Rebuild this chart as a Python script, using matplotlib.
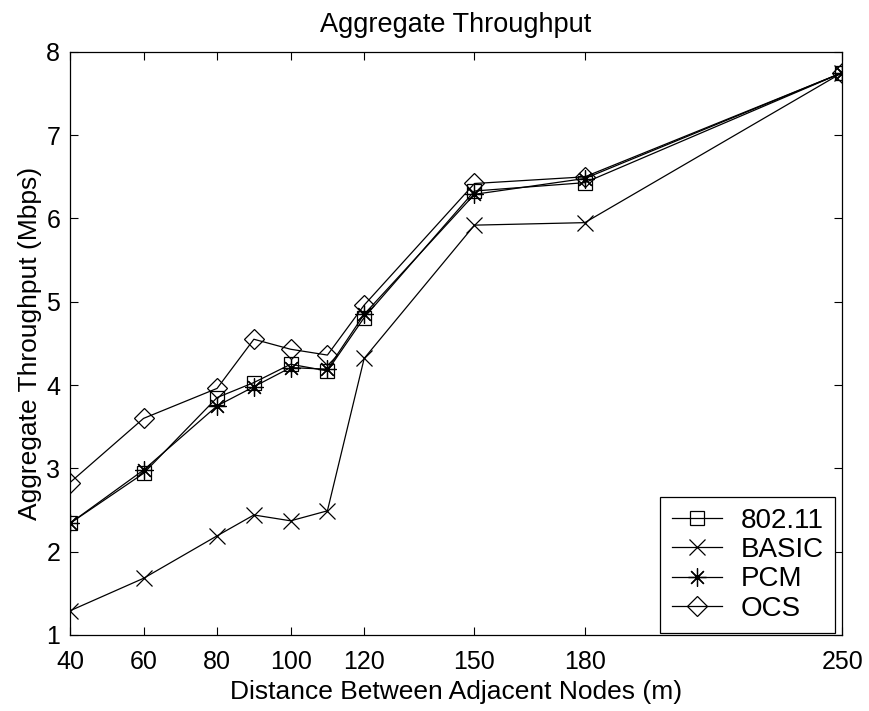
import matplotlib
matplotlib.use("Agg")
import matplotlib.pyplot as plt

plt.rcParams['font.family'] = ['Liberation Sans', 'DejaVu Sans']

distance = [40, 60, 80, 90, 100, 110, 120, 150, 180, 250]
tp_80211 = [2.34, 2.94, 3.85, 4.03, 4.25, 4.17, 4.81, 6.33, 6.43, 7.75]
tp_basic = [1.29, 1.68, 2.19, 2.44, 2.37, 2.49, 4.32, 5.92, 5.95, 7.75]
tp_pcm = [2.34, 2.98, 3.75, 3.98, 4.21, 4.19, 4.85, 6.29, 6.48, 7.75]
tp_ocs = [2.83, 3.60, 3.96, 4.55, 4.43, 4.36, 4.96, 6.42, 6.50, 7.75]
xticks = [40, 60, 80, 100, 120, 150, 180, 250]
yticks = [1, 2, 3, 4, 5, 6, 7, 8]

fig = plt.figure(figsize=(8.7, 7.11), dpi=100)
ax = fig.add_axes([0.0805, 0.107, 0.8875, 0.82])

lw = 0.9
ax.plot(distance, tp_80211, color='black', lw=lw, marker='s', ms=10, mfc='none', mew=0.9, label='802.11')
ax.plot(distance, tp_basic, color='black', lw=lw, marker='x', ms=12, mew=0.9, label='BASIC')
ax.plot(distance, tp_pcm, color='black', lw=lw, marker=(8, 2, 0), ms=13, mew=0.9, label='PCM')
ax.plot(distance, tp_ocs, color='black', lw=lw, marker='D', ms=10, mfc='none', mew=0.9, label='OCS')

ax.set_xlim(40, 250)
ax.set_ylim(1, 8)
ax.set_xticks(xticks)
ax.set_yticks(yticks)
ax.tick_params(direction='in', top=True, right=True, length=6, width=0.8, labelsize=18)
ax.tick_params(axis='x', pad=11)
ax.tick_params(axis='y', pad=7)
for s in ax.spines.values():
    s.set_linewidth(0.9)

ax.set_title('Aggregate Throughput', fontsize=19.5, pad=14)
ax.set_xlabel('Distance Between Adjacent Nodes (m)', fontsize=19, labelpad=4)
ax.set_ylabel('Aggregate Throughput (Mbps)', fontsize=19, labelpad=3)

leg = ax.legend(loc='lower right', bbox_to_anchor=(0.991, 0.0035), fontsize=20,
                frameon=True, fancybox=False, edgecolor='black', framealpha=1,
                borderpad=0.4, labelspacing=0.12, handlelength=1.8,
                handletextpad=0.7, borderaxespad=0.0)
leg.get_frame().set_linewidth(0.9)

fig.savefig('out.png', dpi=100)
